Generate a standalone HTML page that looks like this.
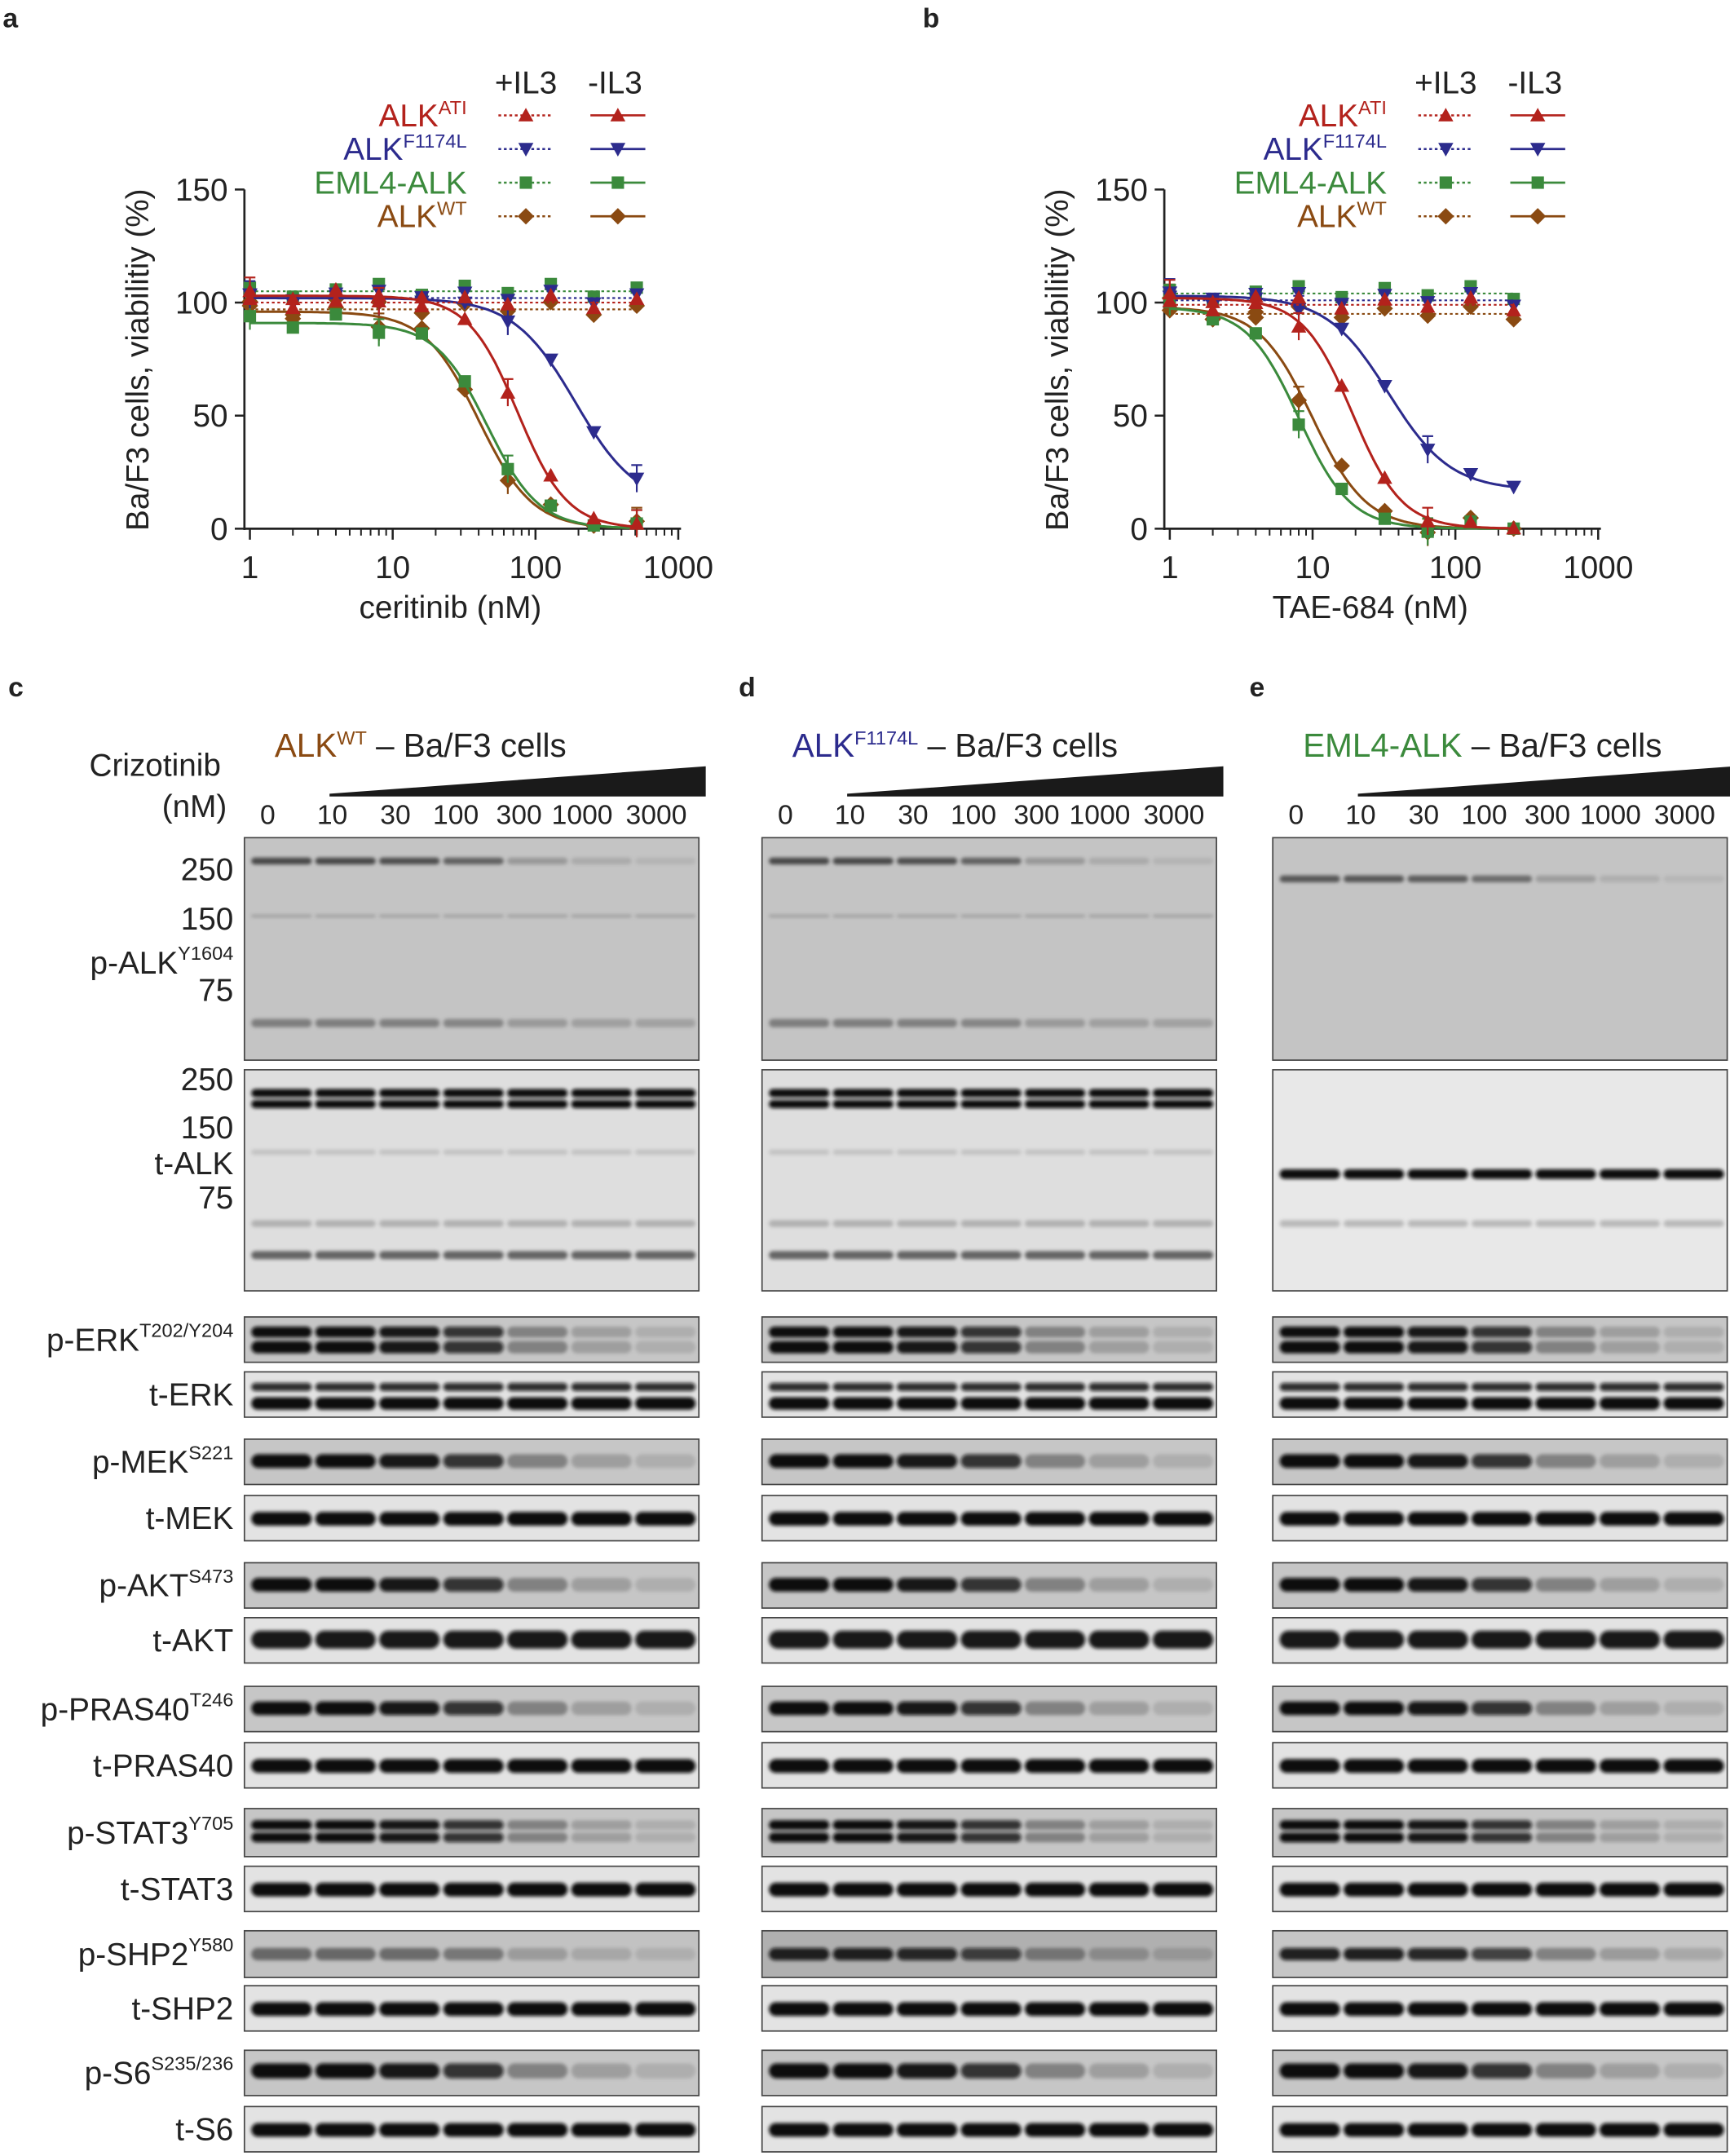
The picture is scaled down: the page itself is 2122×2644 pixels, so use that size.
<!DOCTYPE html>
<html><head><meta charset="utf-8">
<style>
html,body{margin:0;padding:0;background:#fff;}
svg{display:block;}
text{font-family:"Liberation Sans",Arial,sans-serif;fill:#222;}
</style></head>
<body>
<svg id="s" xmlns="http://www.w3.org/2000/svg" width="2122" height="2644" viewBox="0 0 1260 1570">
<defs>
<filter id="bl" x="-10%" y="-50%" width="120%" height="200%"><feGaussianBlur stdDeviation="1.2"/></filter>
</defs>
<g id="root"></g>
</svg>
<script>
const root=document.getElementById('root');
let H='';
const C={r:'#b3221c',b:'#2c2b8d',g:'#3b8a3c',n:'#8a4a12'};
function t(x,y,s,sz,anc,extra){H+=`<text x="${x}" y="${y}" font-size="${sz}" text-anchor="${anc||'start'}" ${extra||''}>${s}</text>`;}
function marker(type,x,y,col){
  const s=5.5;
  if(type=='up')return `<polygon points="${x},${y-s} ${x-s},${y+s*0.8} ${x+s},${y+s*0.8}" fill="${col}"/>`;
  if(type=='dn')return `<polygon points="${x},${y+s} ${x-s},${y-s*0.8} ${x+s},${y-s*0.8}" fill="${col}"/>`;
  if(type=='sq')return `<rect x="${x-4.5}" y="${y-4.5}" width="9" height="9" fill="${col}"/>`;
  return `<polygon points="${x},${y-6} ${x+6},${y} ${x},${y+6} ${x-6},${y}" fill="${col}"/>`;
}
function chart(ox,letter,xlabel,doses,series){
  const X=v=>ox+4+104*Math.log10(v), Y=v=>385-v*247/150;
  t(ox-178+2,20,letter,20,'start','font-weight="bold"');
  H+=`<line x1="${ox}" y1="138" x2="${ox}" y2="386" stroke="#222" stroke-width="1.6"/>`;
  H+=`<line x1="${ox}" y1="385" x2="${ox+318}" y2="385" stroke="#222" stroke-width="1.6"/>`;
  [0,50,100,150].forEach(v=>{H+=`<line x1="${ox-7}" y1="${Y(v)}" x2="${ox}" y2="${Y(v)}" stroke="#222" stroke-width="1.5"/>`;t(ox-12,Y(v)+8,v,23,'end');});
  [1,10,100,1000].forEach(v=>{H+=`<line x1="${X(v)}" y1="385" x2="${X(v)}" y2="393" stroke="#222" stroke-width="1.5"/>`;t(X(v),421,v,23,'middle');});
  [1,10,100].forEach(dec=>{for(let k=2;k<=9;k++){const xx=X(dec*k);H+=`<line x1="${xx}" y1="385" x2="${xx}" y2="390" stroke="#222" stroke-width="1.2"/>`;}});
  t(ox-70,262,'Ba/F3 cells, viabilitiy (%)',23,'middle',`transform="rotate(-90 ${ox-70} 262)"`);
  t(ox+150,450,xlabel,23,'middle');
  t(ox+205,68,'+IL3',23,'middle');t(ox+270,68,'-IL3',23,'middle');
  const names=[['ALK<tspan font-size="14" dy="-9">ATI</tspan>',C.r,'up'],['ALK<tspan font-size="14" dy="-9">F1174L</tspan>',C.b,'dn'],['EML4-ALK',C.g,'sq'],['ALK<tspan font-size="14" dy="-9">WT</tspan>',C.n,'di']];
  names.forEach((n,i)=>{const y=84+i*24.5;
    H+=`<text x="${ox+162}" y="${y+8}" font-size="23" text-anchor="end" style="fill:${n[1]}">${n[0]}</text>`;
    H+=`<line x1="${ox+185}" y1="${y}" x2="${ox+225}" y2="${y}" stroke="${n[1]}" stroke-width="1.5" stroke-dasharray="2,2"/>`+marker(n[2],ox+205,y,n[1]);
    H+=`<line x1="${ox+252}" y1="${y}" x2="${ox+292}" y2="${y}" stroke="${n[1]}" stroke-width="1.6"/>`+marker(n[2],ox+272,y,n[1]);
  });
  series.forEach(s=>{
    const f=x=>s.bot+(s.top-s.bot)/(1+Math.pow(x/s.ic,s.h));
    let p='';const xmax=doses[doses.length-1];
    for(let i=0;i<=120;i++){const x=Math.pow(10,i/120*Math.log10(xmax));p+=(i?'L':'M')+X(x).toFixed(1)+','+Y(f(x)).toFixed(1);}
    H+=`<path d="${p}" fill="none" stroke="${s.c}" stroke-width="1.8"/>`;
    H+=`<line x1="${X(1)}" y1="${Y(s.pl)}" x2="${X(xmax)}" y2="${Y(s.pl)}" stroke="${s.c}" stroke-width="1.3" stroke-dasharray="2,2"/>`;
    doses.forEach((d,i)=>{
      const noise=[3,-2,4,-3,2,1,-2,3,0,2][i]*s.nz;
      const pv=s.pl+[2,-3,1,4,-2,3,-1,4,-3,2][i]*0.8;
      H+=marker(s.m,X(d),Y(pv),s.c);
      const v=f(d)+noise; H+=marker(s.m,X(d),Y(v),s.c);
      if(i%3==0){H+=`<line x1="${X(d)}" y1="${Y(v+6)}" x2="${X(d)}" y2="${Y(v-6)}" stroke="${s.c}" stroke-width="1.3"/><line x1="${X(d)-4}" y1="${Y(v+6)}" x2="${X(d)+4}" y2="${Y(v+6)}" stroke="${s.c}" stroke-width="1.3"/>`;}
    });
  });
}
const dA=[1,2,4,8,16,32,64,128,256,512];
chart(178,'a','ceritinib (nM)',dA,[
 {c:C.n,m:'di',ic:40,h:2.3,top:96,bot:0,pl:97,nz:1.5},
 {c:C.g,m:'sq',ic:46,h:2.4,top:91,bot:0,pl:105,nz:1},
 {c:C.b,m:'dn',ic:190,h:2.0,top:102,bot:10,pl:102,nz:0.5},
 {c:C.r,m:'up',ic:75,h:2.5,top:103,bot:0,pl:100,nz:0.7}]);
const dB=[1,2,4,8,16,32,64,128,256];
chart(848,'b','TAE-684 (nM)',dB,[
 {c:C.n,m:'di',ic:10,h:2.3,top:98,bot:0,pl:95,nz:1.5},
 {c:C.g,m:'sq',ic:8,h:2.4,top:98,bot:0,pl:104,nz:1},
 {c:C.b,m:'dn',ic:34,h:2.0,top:103,bot:17,pl:101,nz:0.5},
 {c:C.r,m:'up',ic:19,h:2.5,top:102,bot:0,pl:99,nz:0.7}]);

const panels=[{x:178,lx:6,l:'c',title:'ALK<tspan font-size="14" dy="-9">WT</tspan>',col:C.n},
 {x:555,lx:538,l:'d',title:'ALK<tspan font-size="14" dy="-9">F1174L</tspan>',col:C.b},
 {x:927,lx:910,l:'e',title:'EML4-ALK',col:C.g}];
const W=331;
const rows=[
 ['p-ALK','Y1604',610,772],['t-ALK','',779,940],
 ['p-ERK','T202/Y204',959,992],['t-ERK','',999,1032],
 ['p-MEK','S221',1048,1081],['t-MEK','',1089,1122],
 ['p-AKT','S473',1138,1171],['t-AKT','',1178,1211],
 ['p-PRAS40','T246',1228,1261],['t-PRAS40','',1269,1302],
 ['p-STAT3','Y705',1317,1352],['t-STAT3','',1359,1392],
 ['p-SHP2','Y580',1406,1440],['t-SHP2','',1446,1479],
 ['p-S6','S235/236',1493,1526],['t-S6','',1534,1567]];
const dec=[1,1,0.95,0.8,0.35,0.2,0.12];
panels.forEach((P,pi)=>{
  t(P.lx,507,P.l,20,'start','font-weight="bold"');
  H+=`<text x="${P.x+22}" y="551" font-size="24"><tspan style="fill:${P.col}">${P.title}</tspan><tspan dy="${P.l=='e'?0:9}"> – Ba/F3 cells</tspan></text>`;
  H+=`<polygon points="${P.x+62},578 ${P.x+336},558 ${P.x+336},580 ${P.x+62},580" fill="#1a1a1a"/>`;
  const doses=['0','10','30','100','300','1000','3000'];
  const dx=[17,64,110,154,200,246,300];
  doses.forEach((d,i)=>t(P.x+dx[i],600,d,20,'middle'));
  const lx=i=>P.x+27+i*46.6;
  rows.forEach((R,ri)=>{
    const [nm,sup,y1,y2]=R;const h=y2-y1;
    const ph=nm.startsWith('p-');
    let bg=ph?'#c6c6c6':'#e3e3e3';
    if(ri==0)bg='#c4c4c4';
    if(ri==1)bg= pi==2?'#e8e8e8':'#dedede';
    if(nm=='p-SHP2'&&pi==1)bg='#b0b0b0';
    if(nm=='p-SHP2'&&pi==0)bg='#c2c2c2';
    H+=`<rect x="${P.x}" y="${y1}" width="${W}" height="${h}" fill="${bg}" stroke="#444" stroke-width="1"/>`;
    let g='';
    for(let i=0;i<7;i++){
      const cx=lx(i);const k=ph?(pi==0&&nm=='p-SHP2'?dec[i]*0.5:(nm=='p-ALK'?dec[i]*0.7:dec[i])):1;
      const band=(yy,th,a)=>{g+=`<rect x="${cx-22}" y="${yy-th/2}" width="44" height="${th}" rx="${th/2}" fill="#0a0a0a" opacity="${Math.min(1,Math.max(0.04,a)).toFixed(2)}"/>`;};
      if(nm=='p-ALK'){ if(pi<2){band(y1+17,5,k*0.9);band(y1+135,6,0.3*k+0.15);band(y1+57,2,0.2);} else {band(y1+30,5,k*0.8);} }
      else if(nm=='t-ALK'){ if(pi<2){band(y1+17,6,1);band(y1+25,6,1);band(y1+135,6,0.55);band(y1+112,5,0.2);band(y1+60,4,0.12);} else {band(y1+76,7,1);band(y1+112,5,0.2);} }
      else if(nm=='p-ERK'){band(y1+11,8,k);band(y1+22,9,k);}
      else if(nm=='t-ERK'){band(y1+11,6,0.85);band(y1+23,9,1);}
      else if(nm=='p-STAT3'){band(y1+12,7,k);band(y1+21,7,k);}
      else if(nm=='p-S6'){band(y1+15,11,k);}
      else if(nm=='t-AKT'){band(y1+16,13,0.95);}
      else if(nm=='p-SHP2'){band(y1+17,9,k*0.85+0.05);}
      else if(ph){band(y1+16,10,k);}
      else {band(y1+17,10,1);}
    }
    H+=`<g filter="url(#bl)">${g}</g>`;
    if(pi==0){
      if(ri==0){t(170,641,'250',23,'end');t(170,677,'150',23,'end');t(170,729,'75',23,'end');
        H+=`<text x="170" y="709" font-size="23" text-anchor="end">p-ALK<tspan font-size="14" dy="-10">Y1604</tspan></text>`;}
      else if(ri==1){t(170,794,'250',23,'end');t(170,829,'150',23,'end');t(170,855,'t-ALK',23,'end');t(170,880,'75',23,'end');}
      else if(sup){H+=`<text x="170" y="${y1+h/2+8}" font-size="23" text-anchor="end">${nm}<tspan font-size="14" dy="-10">${sup}</tspan></text>`;}
      else t(170,y1+h/2+8,nm,23,'end');
    }
  });
});
t(65,565,'Crizotinib',23,'start');t(118,595,'(nM)',23,'start');
root.innerHTML=H;
</script>
</body></html>
